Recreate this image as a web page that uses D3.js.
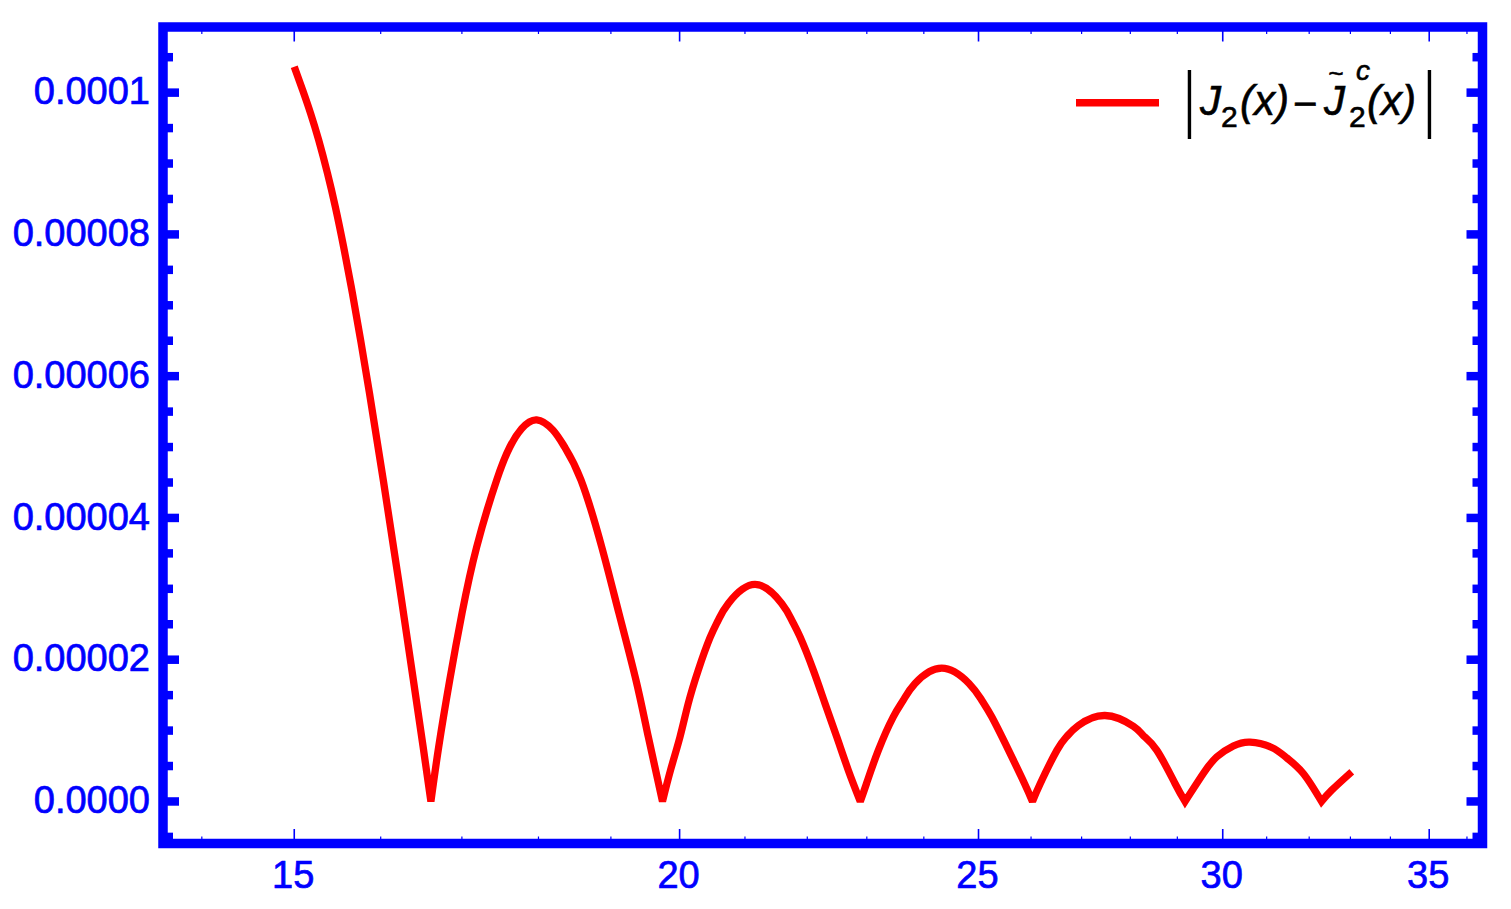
<!DOCTYPE html>
<html><head><meta charset="utf-8">
<script src="https://cdn.jsdelivr.net/npm/d3@7"></script>
<style>
html,body{margin:0;padding:0;background:#fff;}
svg{display:block;}
text{font-family:"Liberation Sans",Arial,sans-serif;}
</style></head><body>
<svg id="chart" width="1511" height="909"></svg>
<script>
// ---- data: |J2(x) - J2~c(x)|, one array per arch (zero to zero) ----
const arch0 = [[15.0,103.66e-6],[15.094,100.37e-6],[15.184,97.08e-6],[15.276,93.31e-6],[15.377,88.61e-6],[15.467,83.90e-6],[15.563,78.26e-6],[15.666,71.68e-6],[15.762,65.09e-6],[15.867,57.57e-6],[16.031,45.34e-6],[16.215,31.23e-6],[16.395,17.12e-6],[16.515,7.70e-6],[16.611,0]];
const arch1 = [[16.611,0],[16.708,7.70e-6],[16.846,17.12e-6],[17.001,26.53e-6],[17.189,35.92e-6],[17.447,45.34e-6],[17.621,50.04e-6],[17.776,52.60e-6],[17.976,53.84e-6],[18.196,52.39e-6],[18.353,50.04e-6],[18.581,45.34e-6],[18.870,35.92e-6],[19.115,26.53e-6],[19.359,17.12e-6],[19.538,9.12e-6],[19.746,0]];
const arch2 = [[19.746,0],[19.865,4.42e-6],[20.006,9.12e-6],[20.130,13.83e-6],[20.281,18.53e-6],[20.459,23.10e-6],[20.586,25.59e-6],[20.741,27.94e-6],[21.158,30.62e-6],[21.584,27.94e-6],[21.746,25.59e-6],[21.881,23.23e-6],[22.099,18.53e-6],[22.293,13.83e-6],[22.489,9.12e-6],[22.684,4.42e-6],[22.888,0]];
const arch3 = [[22.888,0],[22.995,2.54e-6],[23.200,7.24e-6],[23.459,11.94e-6],[23.635,14.29e-6],[23.843,16.65e-6],[24.323,18.81e-6],[24.823,16.65e-6],[25.060,14.29e-6],[25.248,11.94e-6],[25.566,7.24e-6],[25.873,2.54e-6],[26.028,0]];
const arch4 = [[26.028,0],[26.180,2.54e-6],[26.509,7.24e-6],[26.700,9.14e-6],[26.932,10.70e-6],[27.476,12.13e-6],[28.063,10.60e-6],[28.273,9.30e-6],[28.557,7.24e-6],[28.950,2.54e-6],[29.167,0]];
const arch5 = [[29.167,0],[29.568,3.95e-6],[29.866,6.29e-6],[30.238,7.82e-6],[30.617,8.37e-6],[31.117,7.62e-6],[31.468,6.15e-6],[31.860,3.95e-6],[32.296,0]];
const arch6 = [[32.296,0],[32.543,1.59e-6],[33.032,4.18e-6]];
const arches = [arch0, arch1, arch2, arch3, arch4, arch5, arch6];

// ---- axes ----
const xDomain = [13.6, 36.42];
const yDomain = [-5.93e-6, 109.26e-6];
const xMajorTicks = [15, 20, 25, 30, 35];
const xMinorTicks = [14, 16, 17, 18, 19, 21, 22, 23, 24, 26, 27, 28, 29, 31, 32, 33, 34, 36];
const yMajorTicks = [0, 2e-5, 4e-5, 6e-5, 8e-5, 1e-4];
const yTickLabels = ["0.0000", "0.00002", "0.00004", "0.00006", "0.00008", "0.0001"];
const yMinorTicks = [-5e-6, 5e-6, 10e-6, 15e-6, 25e-6, 30e-6, 35e-6, 45e-6, 50e-6, 55e-6, 65e-6, 70e-6, 75e-6, 85e-6, 90e-6, 95e-6, 105e-6];

// ---- layout ----
const frame = {left: 163, right: 1482.5, top: 27, bottom: 843.5};
const BLUE = "#0000ff", RED = "#ff0000";
const svg = d3.select("#chart");
const x = d3.scaleLog().domain(xDomain).range([frame.left, frame.right]);
const y = d3.scaleLinear().domain(yDomain).range([frame.bottom, frame.top]);

// frame
svg.append("rect")
  .attr("x", frame.left).attr("y", frame.top)
  .attr("width", frame.right - frame.left).attr("height", frame.bottom - frame.top)
  .attr("fill", "none").attr("stroke", BLUE).attr("stroke-width", 9.5)
  .attr("stroke-linejoin", "miter");

// y ticks (thick), left and right
const yt = svg.append("g").attr("stroke", BLUE).attr("stroke-width", 8.5);
[[yMajorTicks, 16], [yMinorTicks, 10]].forEach(([vals, len]) => {
  vals.forEach(v => {
    yt.append("line").attr("x1", frame.left).attr("x2", frame.left + len).attr("y1", y(v)).attr("y2", y(v));
    yt.append("line").attr("x1", frame.right).attr("x2", frame.right - len).attr("y1", y(v)).attr("y2", y(v));
  });
});
// x ticks (thin), bottom and top
const xt = svg.append("g").attr("stroke", BLUE);
[[xMajorTicks, 14.5, 1.6], [xMinorTicks, 7, 1.2]].forEach(([vals, len, w]) => {
  vals.forEach(v => {
    xt.append("line").attr("stroke-width", w).attr("x1", x(v)).attr("x2", x(v)).attr("y1", frame.bottom).attr("y2", frame.bottom - len);
    xt.append("line").attr("stroke-width", w).attr("x1", x(v)).attr("x2", x(v)).attr("y1", frame.top).attr("y2", frame.top + len);
  });
});

// tick labels
svg.append("g").selectAll("text").data(yMajorTicks).join("text")
  .attr("x", 150).attr("y", d => y(d) + 11.7)
  .attr("text-anchor", "end").attr("fill", BLUE).attr("stroke", BLUE).attr("stroke-width", 0.7)
  .attr("font-size", 38)
  .text((d, i) => yTickLabels[i]);
svg.append("g").selectAll("text").data(xMajorTicks).join("text")
  .attr("x", d => x(d) - 1).attr("y", 888)
  .attr("text-anchor", "middle").attr("fill", BLUE).attr("stroke", BLUE).attr("stroke-width", 0.7)
  .attr("font-size", 38)
  .text(d => d);

// curve: one path, arches joined at the zeros
const line = d3.line().x(d => x(d[0])).y(d => y(d[1])).curve(d3.curveNatural);
const dPath = arches.map((a, i) => {
  const s = line(a);
  return i === 0 ? s : s.replace(/^M[^A-Za-z]*/, "");
}).join("");
svg.append("path").attr("d", dPath)
  .attr("fill", "none").attr("stroke", RED).attr("stroke-width", 7.3)
  .attr("stroke-linejoin", "miter").attr("stroke-miterlimit", 2.5).attr("stroke-linecap", "butt");

// legend
const lg = svg.append("g");
lg.append("line").attr("x1", 1076).attr("x2", 1159).attr("y1", 102.8).attr("y2", 102.8)
  .attr("stroke", RED).attr("stroke-width", 7.5);
const T = (txt, px, py, fs, italic) => lg.append("text").attr("x", px).attr("y", py)
  .attr("font-size", fs).attr("font-style", italic ? "italic" : "normal")
  .attr("fill", "#000").attr("stroke", "#000").attr("stroke-width", 0.6).text(txt);
lg.append("text").attr("transform", "translate(1184,124.4) scale(1,1.75)").attr("font-size", 42).attr("fill", "#000").text("|");
T("J", 1200, 115, 42, true);
T("2", 1221, 127, 30, false);
T("(x)", 1240, 115, 42, true);
T("\u2212", 1293, 117.7, 42, false);
T("J", 1324, 115, 42, true);
T("~", 1328, 81.5, 26, true);
T("c", 1356, 80, 28, true);
T("2", 1349, 127, 30, false);
T("(x)", 1367, 115, 42, true);
lg.append("text").attr("transform", "translate(1424,124.4) scale(1,1.75)").attr("font-size", 42).attr("fill", "#000").text("|");
</script>
</body></html>
